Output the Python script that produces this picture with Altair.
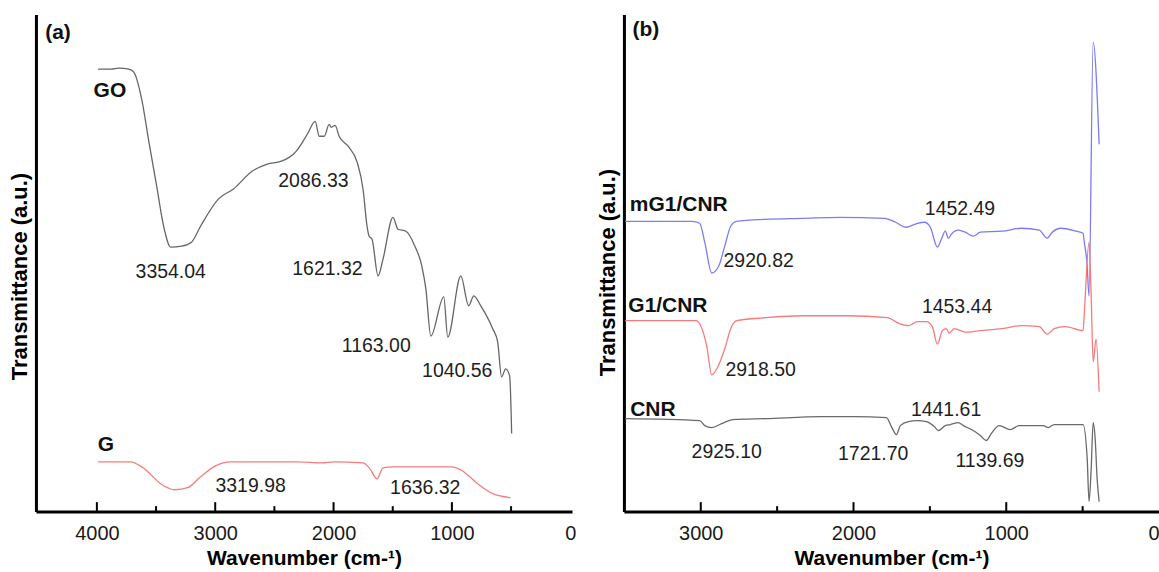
import altair as alt
import pandas as pd

FONT = "Liberation Sans"

# ---------------- Panel (a) data ----------------
go_wn = [3990, 3880, 3815, 3730, 3688, 3621, 3560, 3495, 3436, 3376, 3284, 3200, 3124, 2972,
         2846, 2686, 2560, 2441, 2340, 2315, 2222, 2155, 2121, 2079, 2037, 2020, 1987, 1953,
         1877, 1801, 1751, 1717, 1700, 1675, 1624, 1582, 1498, 1456, 1388, 1313, 1254, 1220,
         1178, 1069, 1035, 925, 858, 815, 756, 655, 613, 580, 546, 512, 495]
go_t = [89.0, 89.0, 89.2, 89.0, 88.4, 82.9, 74.3, 65.5, 57.4, 53.2, 53.4, 54.2, 57.4, 62.9,
        64.9, 68.5, 69.9, 70.5, 71.9, 72.5, 75.9, 78.5, 75.5, 75.5, 77.9, 77.3, 77.7, 75.5,
        73.5, 70.3, 64.9, 57.4, 55.4, 54.8, 47.4, 50.8, 59.2, 56.8, 56.4, 53.4, 49.4, 44.8,
        35.3, 43.2, 35.1, 47.4, 41.4, 43.4, 41.4, 36.8, 34.1, 27.1, 28.7, 27.3, 15.7]

g_wn = [3990, 3714, 3621, 3436, 3343, 3233, 3124, 2998, 2871, 2627, 2315, 2096, 2003, 1751,
        1692, 1633, 1582, 1498, 1380, 1001, 925, 782, 655, 504]
g_t = [10.0, 10.0, 9.0, 5.2, 4.4, 4.8, 7.0, 9.2, 10.0, 10.0, 10.0, 9.8, 10.0, 9.8,
       8.6, 6.6, 8.8, 9.0, 9.0, 9.0, 8.4, 5.6, 3.6, 2.8]

ann_a_text = ["3354.04", "2086.33", "1621.32", "1163.00", "1040.56", "3319.98", "1636.32"]
ann_a_wn = [3376, 2170, 2052, 1639, 955, 2701, 1225]
ann_a_t = [48.2, 66.5, 48.8, 33.3, 28.3, 5.2, 4.8]

lab_a_text = ["(a)", "GO", "G"]
lab_a_wn = [4329, 3890, 3924]
lab_a_t = [96.2, 84.7, 13.3]

ticks_a_major = [4000, 3000, 2000, 1000]
ticks_a_minor = [3500, 2500, 1500, 500]
labels_a = [4000, 3000, 2000, 1000, 0]

# ---------------- Panel (b) data ----------------
m_wn = [3495, 3059, 3007, 2974, 2928, 2882, 2843, 2804, 2765, 2575, 2333, 2092, 1797, 1725,
        1654, 1582, 1536, 1497, 1451, 1425, 1399, 1379, 1359, 1314, 1268, 1216, 1170, 1026,
        902, 784, 732, 699, 641, 543, 497, 490, 471, 458, 431, 392]
m_t = [58.4, 58.4, 58.0, 54.2, 48.0, 49.4, 53.4, 57.4, 58.4, 58.8, 59.0, 59.2, 59.0, 58.2,
       57.2, 58.0, 58.2, 57.2, 53.2, 54.8, 56.4, 55.0, 55.8, 56.6, 56.2, 55.4, 56.2, 56.4,
       57.0, 56.6, 55.0, 56.2, 57.0, 56.4, 56.0, 54.4, 49.8, 43.4, 94.4, 73.9]

g1_wn = [3495, 3033, 3000, 2961, 2928, 2889, 2843, 2804, 2765, 2575, 2333, 2039, 1778, 1699,
         1641, 1582, 1523, 1484, 1451, 1418, 1392, 1373, 1340, 1268, 1170, 1026, 902, 784,
         732, 686, 614, 497, 490, 458, 444, 431, 412, 392]
g1_t = [38.4, 38.4, 37.4, 33.3, 27.5, 29.1, 32.7, 36.8, 38.4, 39.0, 39.4, 39.4, 39.0, 37.8,
        37.4, 38.2, 38.2, 37.2, 33.7, 36.4, 36.8, 35.9, 36.8, 36.1, 36.4, 36.8, 37.4, 37.2,
        35.7, 36.8, 37.2, 36.4, 39.4, 54.2, 43.4, 30.1, 34.7, 24.1]

cnr_wn = [3495, 3007, 2974, 2928, 2863, 2791, 2575, 2209, 1993, 1784, 1752, 1719, 1693, 1641,
          1582, 1523, 1471, 1444, 1399, 1366, 1314, 1281, 1216, 1170, 1131, 1098, 1046, 974,
          915, 830, 758, 725, 686, 516, 497, 470, 458, 444, 431, 418, 405, 392]
cnr_t = [18.7, 18.3, 17.3, 16.9, 17.7, 18.5, 18.7, 19.1, 19.1, 18.9, 17.1, 15.5, 17.3, 18.1,
         18.3, 18.1, 17.1, 16.3, 17.3, 17.5, 17.9, 17.3, 16.3, 15.3, 14.3, 15.7, 17.3, 16.5,
         17.3, 17.3, 17.3, 16.9, 17.5, 17.5, 17.5, 10.6, 2.0, 8.6, 17.9, 14.7, 6.6, 2.0]

ann_b_text = ["1452.49", "2920.82", "1453.44", "2918.50", "1441.61", "2925.10", "1721.70", "1139.69"]
ann_b_wn = [1303, 2621, 1322, 2608, 1394, 2830, 1871, 1107]
ann_b_t = [60.8, 50.4, 41.2, 28.5, 20.5, 12.0, 11.6, 10.2]

lab_b_text = ["(b)", "mG1/CNR", "G1/CNR", "CNR"]
lab_b_wn = [3359, 3144, 3215, 3313]
lab_b_t = [96.8, 61.6, 41.4, 20.5]

ticks_b_major = [3000, 2000, 1000]
ticks_b_minor = [2500, 1500, 500]
labels_b = [3000, 2000, 1000, 0]

COL_GO = "#666666"
COL_G = "#f47c7c"
COL_M = "#7b7bf5"
COL_G1 = "#f47c7c"
COL_CNR = "#6a6a6a"

W_A, W_B, H = 537, 536, 498


def series(wn, t):
    return pd.DataFrame({"wn": wn, "t": t, "i": list(range(len(wn)))})


def make_panel(domain, width, labels, flush, lines, ann, labs, major, minor, title_y):
    x_enc = alt.X(
        "wn:Q",
        scale=alt.Scale(domain=domain, reverse=True, nice=False, zero=False),
        axis=alt.Axis(
            values=labels, format="d", title="Wavenumber (cm-¹)",
            labelFont=FONT, labelFontSize=20, labelColor="#1a1a1a",
            labelPadding=12, labelFlush=flush, labelOverlap=False,
            ticks=False, grid=False,
            domainColor="black", domainWidth=3,
            titleFont=FONT, titleFontSize=21, titleFontWeight="bold",
            titleColor="black", titlePadding=4,
        ),
    )
    y_enc = alt.Y(
        "t:Q",
        scale=alt.Scale(domain=[0, 100], nice=False, zero=False),
        axis=alt.Axis(
            labels=False, ticks=False, grid=False,
            domainColor="black", domainWidth=3,
            title="Transmittance (a.u.)", titleFont=FONT, titleFontSize=22,
            titleFontWeight="bold", titleColor="black", titlePadding=4,
            titleY=title_y,
        ),
    )
    layers = []
    for df, col in lines:
        layers.append(
            alt.Chart(df).mark_line(color=col, strokeWidth=1.3, clip=True,
                                    interpolate="monotone").encode(
                x=x_enc, y=y_enc, order="i:Q"
            )
        )
    layers.append(
        alt.Chart(pd.DataFrame({"wn": major})).mark_rule(color="black", strokeWidth=2).encode(
            x=x_enc, y=alt.datum(0), y2=alt.datum(1.9)
        )
    )
    layers.append(
        alt.Chart(pd.DataFrame({"wn": minor})).mark_rule(color="black", strokeWidth=2).encode(
            x=x_enc, y=alt.datum(0), y2=alt.datum(1.1)
        )
    )
    layers.append(
        alt.Chart(ann).mark_text(font=FONT, fontSize=19.5, color="#1e1e1e",
                                 align="center", baseline="middle").encode(
            x=x_enc, y=y_enc, text="label:N"
        )
    )
    layers.append(
        alt.Chart(labs).mark_text(font=FONT, fontSize=21, fontWeight="bold", color="#111111",
                                  align="center", baseline="middle").encode(
            x=x_enc, y=y_enc, text="label:N"
        )
    )
    return alt.layer(*layers).properties(width=width, height=H)


panel_a = make_panel(
    [-15, 4515], W_A, labels_a, False,
    [(series(go_wn, go_t), COL_GO), (series(g_wn, g_t), COL_G)],
    pd.DataFrame({"label": ann_a_text, "wn": ann_a_wn, "t": ann_a_t}),
    pd.DataFrame({"label": lab_a_text, "wn": lab_a_wn, "t": lab_a_t}),
    ticks_a_major, ticks_a_minor, 262,
)

panel_b = make_panel(
    [0, 3503], W_B, labels_b, True,
    [(series(m_wn, m_t), COL_M), (series(g1_wn, g1_t), COL_G1), (series(cnr_wn, cnr_t), COL_CNR)],
    pd.DataFrame({"label": ann_b_text, "wn": ann_b_wn, "t": ann_b_t}),
    pd.DataFrame({"label": lab_b_text, "wn": lab_b_wn, "t": lab_b_t}),
    ticks_b_major, ticks_b_minor, 258,
)

chart = (
    alt.hconcat(panel_a, panel_b, spacing=21)
    .properties(padding={"left": 9, "top": 14, "right": 0, "bottom": 0}, background="white")
    .configure_view(stroke=None)
)

chart.save("out.html", embed_options={"renderer": "svg", "actions": False})
